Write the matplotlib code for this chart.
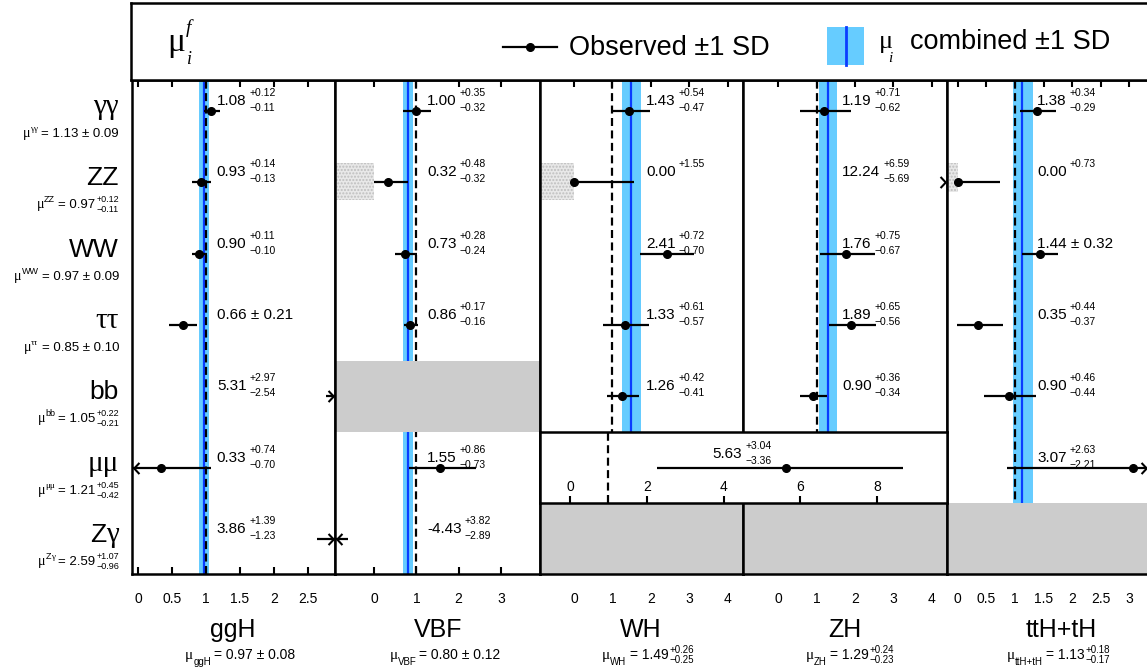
import numpy as np
import matplotlib
matplotlib.use('Agg')
import matplotlib.pyplot as plt
from matplotlib.patches import Rectangle
from matplotlib.path import Path
from matplotlib.ticker import FixedLocator, FormatStrFormatter

plt.rcParams['font.family'] = ['Liberation Sans', 'DejaVu Sans']
plt.rcParams['hatch.linewidth'] = 1.0

SANS = 'Liberation Sans'
SERIF = 'Liberation Serif'
MINUS = '\u2212'
nan = np.nan

# ---------------- data ----------------
productions = ['ggH', 'VBF', 'WH', 'ZH', 'ttH+tH']
decays = ['γγ', 'ZZ', 'WW', 'ττ', 'bb', 'μμ', 'Zγ']

mu_prod = [0.97, 0.80, 1.49, 1.29, 1.13]
mu_prod_up = [0.08, 0.12, 0.26, 0.24, 0.18]
mu_prod_dn = [0.08, 0.12, 0.25, 0.23, 0.17]

mu_dec = [1.13, 0.97, 0.97, 0.85, 1.05, 1.21, 2.59]
mu_dec_up = [0.09, 0.12, 0.09, 0.10, 0.22, 0.45, 1.07]
mu_dec_dn = [0.09, 0.11, 0.09, 0.10, 0.21, 0.42, 0.96]

ggH_val = [1.08, 0.93, 0.90, 0.66, 5.31, 0.33, 3.86]
ggH_up = [0.12, 0.14, 0.11, 0.21, 2.97, 0.74, 1.39]
ggH_dn = [0.11, 0.13, 0.10, 0.21, 2.54, 0.70, 1.23]

VBF_val = [1.00, 0.32, 0.73, 0.86, nan, 1.55, -4.43]
VBF_up = [0.35, 0.48, 0.28, 0.17, nan, 0.86, 3.82]
VBF_dn = [0.32, 0.32, 0.24, 0.16, nan, 0.73, 2.89]

WH_val = [1.43, 0.00, 2.41, 1.33, 1.26, nan, nan]
WH_up = [0.54, 1.55, 0.72, 0.61, 0.42, nan, nan]
WH_dn = [0.47, nan, 0.70, 0.57, 0.41, nan, nan]

ZH_val = [1.19, 12.24, 1.76, 1.89, 0.90, nan, nan]
ZH_up = [0.71, 6.59, 0.75, 0.65, 0.36, nan, nan]
ZH_dn = [0.62, 5.69, 0.67, 0.56, 0.34, nan, nan]

ttH_val = [1.38, 0.00, 1.44, 0.35, 0.90, 3.07, nan]
ttH_up = [0.34, 0.73, 0.32, 0.44, 0.46, 2.63, nan]
ttH_dn = [0.29, nan, 0.32, 0.37, 0.44, 2.21, nan]

VH_mumu_val = 5.63
VH_mumu_up = 3.04
VH_mumu_dn = 3.36

tick_vals = [[0, 0.5, 1, 1.5, 2, 2.5], [0, 1, 2, 3], [0, 1, 2, 3, 4],
             [0, 1, 2, 3, 4], [0, 0.5, 1, 1.5, 2, 2.5, 3]]
VH_ticks = [0, 2, 4, 6, 8]

# ---------------- layout ----------------
W, H = 1147, 669
fig = plt.figure(figsize=(W / 100, H / 100), dpi=100)
renderer = fig.canvas.get_renderer()

PTOP, PBOT = 80, 574
ROW0, ROWD = 111.0, 71.33
panel_px = [(132, 335), (335, 540), (540, 743), (743, 947), (947, 1148)]
xlims = [(-0.09, 2.90), (-0.92, 3.92), (-0.88, 4.39), (-0.91, 4.39), (-0.19, 3.33)]
label_x = [1.16, 1.25, 1.87, 1.66, 1.39]
gray_cells = [(1, 4), (2, 6), (3, 6), (4, 6)]
hatch_cells = [(1, 1, -0.27, 0.25), (2, 1, -0.27, 0.25), (4, 1, -0.27, 0.13)]

LIGHTBLUE = '#66CCFF'
DARKBLUE = '#0A3CFF'
GRAY = '#CCCCCC'
SPW = 1.8
DASH = (0, (3.6, 2.0))


def rect(x0, y0, x1, y1):
    return [x0 / W, 1 - y1 / H, (x1 - x0) / W, (y1 - y0) / H]


def fam_runs(s):
    runs = []
    for ch in s:
        f = SERIF if '\u0370' <= ch <= '\u03ff' else SANS
        if runs and runs[-1][1] == f:
            runs[-1][0] += ch
        else:
            runs.append([ch, f])
    return runs


def rich(xd, yd, items, ha='left'):
    """xd, yd in display pixels (y up), baseline at yd."""
    groups, widths = [], []
    for it in items:
        if it[0] == 'g':
            groups.append([]); widths.append(it[1]); continue
        if it[0] == 't':
            _, s, size, fam, style, dy = it
            parts = [(s, dy)]
        else:
            _, top, bot, size, fam, dyt, dyb = it
            style = 'normal'
            parts = [(p, d) for p, d in ((top, dyt), (bot, dyb)) if p]
        grp, w = [], 0
        for s, dy in parts:
            t = fig.text(0, 0, s, fontsize=size, family=fam, style=style,
                         ha='left', va='baseline', zorder=20)
            w = max(w, t.get_window_extent(renderer).width)
            grp.append((t, dy))
        groups.append(grp); widths.append(w)
    total = sum(widths)
    x = xd - {'left': 0, 'right': total, 'center': total / 2}[ha]
    for grp, w in zip(groups, widths):
        for t, dy in grp:
            t.set_position((x / W, (yd - dy) / H))
        x += w


def value_items(v, up, dn, size=11, ssize=7.5, dyt=-9, dyb=6):
    if not np.isnan(dn) and abs(up - dn) < 1e-9:
        return [('t', f'{v:.2f} ± {up:.2f}', size, SANS, 'normal', 0)]
    bot = None if np.isnan(dn) else f'{MINUS}{dn:.2f}'
    return [('t', f'{v:.2f}', size, SANS, 'normal', 0), ('g', 3),
            ('s', f'+{up:.2f}', bot, ssize, SANS, dyt, dyb)]


chev_r = Path([(-1, 0.8), (-0.25, 0), (-1, -0.8)], [Path.MOVETO, Path.LINETO, Path.LINETO])
chev_l = Path([(1, 0.8), (0.25, 0), (1, -0.8)], [Path.MOVETO, Path.LINETO, Path.LINETO])


def draw_meas(ax, y, v, up, dn, xl):
    xmin, xmax = xl
    lo = v if np.isnan(dn) else v - dn
    hi = v + up
    a, b = max(lo, xmin), min(hi, xmax)
    if a < b:
        ax.plot([a, b], [y, y], color='k', lw=1.6, solid_capstyle='butt', zorder=6)
    if xmin <= v <= xmax:
        ax.plot([v], [y], 'o', color='k', ms=5.5, zorder=7)
    if hi > xmax:
        ax.plot([xmax], [y], marker=chev_r, ms=10, mec='k', mfc='none', mew=1.5,
                ls='none', clip_on=False, zorder=8)
    if lo < xmin:
        ax.plot([xmin], [y], marker=chev_l, ms=10, mec='k', mfc='none', mew=1.5,
                ls='none', clip_on=False, zorder=8)


vals = [ggH_val, VBF_val, WH_val, ZH_val, ttH_val]
ups = [ggH_up, VBF_up, WH_up, ZH_up, ttH_up]
dns = [ggH_dn, VBF_dn, WH_dn, ZH_dn, ttH_dn]

# ---------------- panels ----------------
axes = []
for p in range(5):
    x0, x1 = panel_px[p]
    ax = fig.add_axes(rect(x0, PTOP, x1, PBOT))
    axes.append(ax)
    ax.set_xlim(*xlims[p])
    ax.set_ylim((PBOT - ROW0) / ROWD, (PTOP - ROW0) / ROWD)
    ax.set_yticks([])
    ax.xaxis.set_major_locator(FixedLocator(tick_vals[p]))
    ax.xaxis.set_major_formatter(FormatStrFormatter('%g'))
    ax.tick_params(axis='x', direction='in', length=5, width=1.5, top=True,
                   bottom=True, labelsize=10, pad=13)
    for s in ax.spines.values():
        s.set_linewidth(SPW)
        s.set_zorder(9)
    if p == 4:
        ax.spines['right'].set_visible(False)
    m, u, d = mu_prod[p], mu_prod_up[p], mu_prod_dn[p]
    ax.axvspan(m - d, m + u, color=LIGHTBLUE, lw=0, zorder=1)
    ax.axvline(m, color=DARKBLUE, lw=1.6, zorder=1.5)
    ax.axvline(1, color='k', lw=1.6, ls=DASH, zorder=2)
    for (pp, r) in gray_cells:
        if pp == p:
            ax.axhspan(r - 0.5, r + 0.5, color=GRAY, lw=0, zorder=5)
    for (pp, r, d0, d1) in hatch_cells:
        if pp == p:
            xm = xlims[p][0]
            ax.add_patch(Rectangle((xm, r + d0), 0 - xm, d1 - d0, fc='#E8E8E8',
                                   ec='#BEBEBE', hatch='.....', lw=0, zorder=1))
    for r in range(7):
        v = vals[p][r]
        if np.isnan(v):
            continue
        draw_meas(ax, r, v, ups[p][r], dns[p][r], xlims[p])

# merged VH mu-mu row
axm = fig.add_axes(rect(540, ROW0 + 4.5 * ROWD, 947, ROW0 + 5.5 * ROWD))
axm.set_zorder(5)
axm.set_facecolor('white')
axm.set_xlim(-0.78, 9.82)
axm.set_ylim(0, 1)
axm.set_yticks([])
axm.xaxis.set_major_locator(FixedLocator(VH_ticks))
axm.xaxis.set_major_formatter(FormatStrFormatter('%g'))
axm.tick_params(axis='x', direction='in', length=5, width=1.5, top=False,
                bottom=True, labelsize=10, pad=-17)
for s in axm.spines.values():
    s.set_linewidth(SPW)
    s.set_zorder(9)
axm.axvline(1, color='k', lw=1.6, ls=DASH, zorder=2)
draw_meas(axm, 0.5, VH_mumu_val, VH_mumu_up, VH_mumu_dn, (-0.78, 9.82))

# value labels
fig.canvas.draw()
for p in range(5):
    ax = axes[p]
    for r in range(7):
        v = vals[p][r]
        if np.isnan(v):
            continue
        xd, yd = ax.transData.transform((label_x[p], r))
        rich(xd, yd + 6, value_items(v, ups[p][r], dns[p][r]))
xd, yd = axm.transData.transform((3.72, 0.5))
rich(xd, yd + 10, value_items(VH_mumu_val, VH_mumu_up, VH_mumu_dn))

# ---------------- header ----------------
axh = fig.add_axes(rect(131, 3, 1160, PTOP))
axh.set_xlim(131, 1160)
axh.set_ylim(PTOP, 3)
axh.set_xticks([]); axh.set_yticks([])
for s in axh.spines.values():
    s.set_linewidth(SPW)
axh.plot([503, 557], [47, 47], color='k', lw=1.6)
axh.plot([530], [47], 'o', color='k', ms=5.5)
axh.add_patch(Rectangle((827, 27), 37, 38, fc=LIGHTBLUE, lw=0))
axh.plot([846, 846], [27, 65], color=DARKBLUE, lw=2)

rich(167, H - 51, [('t', 'μ', 24, SERIF, 'normal', 0)])
rich(186, H - 33, [('t', 'f', 14, SERIF, 'italic', 0)])
rich(187, H - 64, [('t', 'i', 13, SERIF, 'italic', 0)])
rich(569, H - 55, [('t', 'Observed ±1 SD', 19.5, SANS, 'normal', 0)])
rich(879, H - 48, [('t', 'μ', 19, SERIF, 'normal', 0)])
rich(888, H - 62, [('t', 'i', 11, SERIF, 'italic', 0)])
rich(910, H - 49, [('t', 'combined ±1 SD', 19.5, SANS, 'normal', 0)])

# ---------------- row labels ----------------
for r, dname in enumerate(decays):
    yrow = ROW0 + r * ROWD
    big = [('t', s, 19 if f == SANS else 21, f, 'normal', 0) for s, f in fam_runs(dname)]
    rich(119, H - (yrow + 3), big, ha='right')
    m, u, d = mu_dec[r], mu_dec_up[r], mu_dec_dn[r]
    items = [('t', 'μ', 10, SERIF, 'normal', 0)]
    items += [('t', s, 6.5, f, 'normal', -6) for s, f in fam_runs(dname)]
    items += [('g', 3)]
    if abs(u - d) < 1e-9:
        items += [('t', f'= {m:.2f} ± {u:.2f}', 9.5, SANS, 'normal', 0)]
    else:
        items += [('t', f'= {m:.2f}', 9.5, SANS, 'normal', 0), ('g', 1),
                  ('s', f'+{u:.2f}', f'{MINUS}{d:.2f}', 6.5, SANS, -6, 4)]
    rich(119, H - (yrow + 26), items, ha='right')

# ---------------- production labels ----------------
name_cx = [233, 438, 641, 845, 1061]
sub_cx = [240, 445, 648, 850, 1058]
for p, pname in enumerate(productions):
    rich(name_cx[p], H - 637, [('t', pname, 18, SANS, 'normal', 0)], ha='center')
    m, u, d = mu_prod[p], mu_prod_up[p], mu_prod_dn[p]
    items = [('t', 'μ', 11, SERIF, 'normal', 0), ('t', pname, 7, SANS, 'normal', 6), ('g', 3)]
    if abs(u - d) < 1e-9:
        items += [('t', f'= {m:.2f} ± {u:.2f}', 10, SANS, 'normal', 0)]
    else:
        items += [('t', f'= {m:.2f}', 10, SANS, 'normal', 0), ('g', 1),
                  ('s', f'+{u:.2f}', f'{MINUS}{d:.2f}', 7, SANS, -6, 4)]
    rich(sub_cx[p], H - 659, items, ha='center')

fig.savefig('out.png', dpi=100)
